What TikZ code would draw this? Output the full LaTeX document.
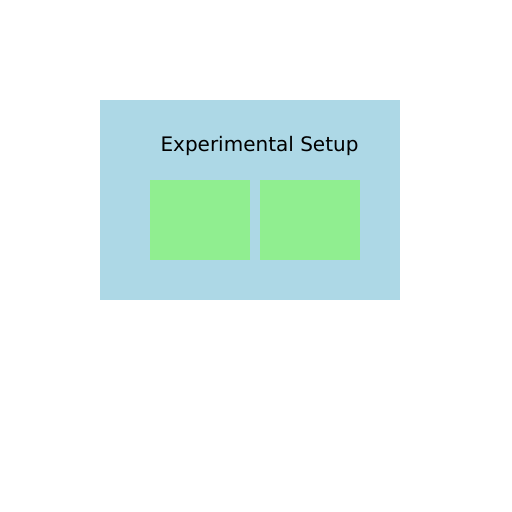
\documentclass[tikz,border=0pt]{standalone}
\usepackage{fontspec}
\setmainfont{DejaVu Sans}
\definecolor{lblue}{HTML}{ADD8E6}
\definecolor{lgreen}{HTML}{90EE90}
\begin{document}
\begin{tikzpicture}[x=1pt,y=-1pt,
  box/.style={inner sep=0pt,outer sep=0pt,draw=none,anchor=north west},
  outer/.style={box,fill=lblue,minimum width=300pt,minimum height=200pt},
  inner/.style={box,fill=lgreen,minimum width=100pt,minimum height=80pt}]
\useasboundingbox (0,0) rectangle (512,512);
\node[outer] (setup) at (100,100) {};
\node[inner] (left) at (150,180) {};
\node[inner] (right) at (260,180) {};
\node[inner sep=0pt,anchor=base,font=\fontsize{20}{24}\selectfont] (title) at (259.5,151.5) {Experimental Setup};
\end{tikzpicture}
\end{document}
